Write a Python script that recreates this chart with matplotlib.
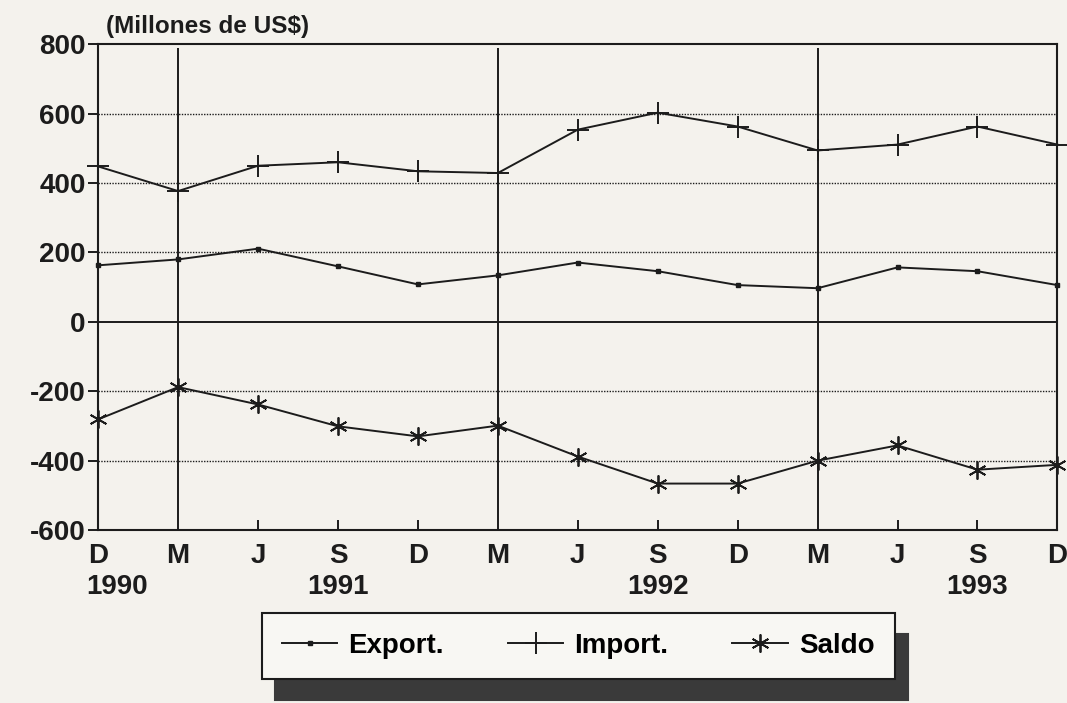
import matplotlib
matplotlib.use("Agg")
import matplotlib.pyplot as plt
import numpy as np

# Datos trimestrales (millones de US$)
meses = ["D", "M", "J", "S", "D", "M", "J", "S", "D", "M", "J", "S", "D"]
anios = {0: "1990", 3: "1991", 7: "1992", 11: "1993"}
export_ = [163, 180, 211, 160, 108, 134, 171, 146, 106, 97, 157, 146, 106]
import_ = [448, 377, 450, 460, 434, 429, 554, 603, 563, 494, 511, 563, 511]
saldo = [-281, -188, -238, -301, -330, -299, -388, -466, -466, -400, -356, -426, -412]
marzos = [1, 5, 9]

PAPER = "#f4f2ed"
INK = "#1c1c1c"
FONT = "Liberation Sans"
FS = 20

plt.rcParams.update({
    "font.family": FONT,
    "font.weight": "bold",
    "axes.unicode_minus": False,
})

fig = plt.figure(figsize=(10.67, 7.03), dpi=100, facecolor=PAPER)
ax = fig.add_axes([0.092, 0.246, 0.899, 0.691], facecolor=PAPER)

x = np.arange(len(meses))

# rejilla punteada y línea del cero
for v in [600, 400, 200, -200, -400]:
    ax.axhline(v, color=INK, lw=1.0, ls=(0, (1, 1)), zorder=1)
ax.axhline(0, color=INK, lw=1.4, zorder=1)
ax.vlines(marzos, -570, 790, color=INK, lw=1.4, zorder=1)

ax.plot(x, export_, color=INK, lw=1.4, marker="s", ms=3, clip_on=False,
        label="Export.", zorder=3)
ax.plot(x, import_, color=INK, lw=1.4, marker="+", ms=16, mew=1.4,
        clip_on=False, label="Import.", zorder=3)
ax.plot(x, saldo, color=INK, lw=1.4, marker=(6, 2, 0), ms=13, mew=1.3,
        clip_on=False, label="Saldo", zorder=3)

ax.set_xlim(0, 12)
ax.set_ylim(-600, 800)
ax.set_yticks(range(-600, 801, 200))
ax.set_xticks(x)
ax.set_xticklabels(meses)

for s in ax.spines.values():
    s.set_color(INK)
    s.set_linewidth(1.5)

ax.tick_params(axis="y", direction="out", length=7, width=1.4, colors=INK,
               labelsize=FS, pad=2)
ax.tick_params(axis="x", direction="in", length=7, width=1.4, colors=INK,
               labelsize=FS, pad=9)

for i, a in anios.items():
    xt = -0.15 if i == 0 else i
    ax.text(xt, -0.09, a, transform=ax.get_xaxis_transform(),
            ha="left" if i == 0 else "center", va="top", fontsize=FS,
            fontweight="bold", color=INK)

fig.text(0.099, 0.978, "(Millones de US$)", fontsize=17.5, fontweight="bold",
         color=INK, va="top", ha="left")

leg = fig.legend(loc="center", bbox_to_anchor=(0.542, 0.0815), ncol=3,
                 frameon=True, fancybox=False, numpoints=1, handlelength=2.0,
                 columnspacing=2.3, handletextpad=0.4, borderpad=0.72,
                 borderaxespad=0,
                 prop={"family": FONT, "weight": "bold", "size": FS},
                 shadow={"ox": 9.5, "oy": -15, "facecolor": "#3a3a3a",
                         "edgecolor": "#3a3a3a", "alpha": 1.0})
leg.get_frame().set_edgecolor(INK)
leg.get_frame().set_linewidth(1.5)
leg.get_frame().set_facecolor("#f8f7f3")

fig.savefig("out.png", dpi=100, facecolor=PAPER)
